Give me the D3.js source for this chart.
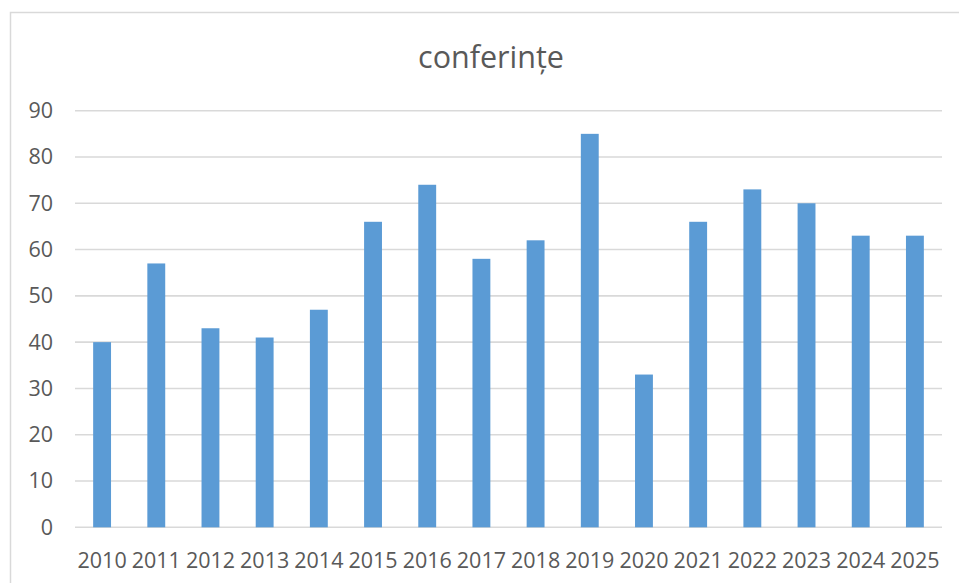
<!DOCTYPE html>
<html>
<head>
<meta charset="utf-8">
<script src="https://cdn.jsdelivr.net/npm/d3@7"></script>
<style>
  html, body { margin: 0; padding: 0; background: #fff; }
  svg { display: block; }
</style>
</head>
<body>
<div id="chart"></div>
<script>
// date din grafic
const years = ['2010','2011','2012','2013','2014','2015','2016','2017','2018','2019','2020','2021','2022','2023','2024','2025'];
const values = [40, 57, 43, 41, 47, 66, 74, 58, 62, 85, 33, 66, 73, 70, 63, 63];
const yTicks = [0, 10, 20, 30, 40, 50, 60, 70, 80, 90];
const title = 'conferințe';

const W = 959, H = 583;
const svg = d3.select('#chart').append('svg')
  .attr('width', W).attr('height', H);

// chenarul graficului
svg.append('rect')
  .attr('x', 10.5).attr('y', 12.5)
  .attr('width', W + 20).attr('height', H + 20)
  .attr('fill', '#fff')
  .attr('stroke', '#d9d9d9')
  .attr('stroke-width', 1.5);

const x = d3.scaleBand()
  .domain(years)
  .range([75, 942])
  .paddingInner(0.67)
  .paddingOuter(0.335);

const y = d3.scaleLinear()
  .domain([0, 90])
  .range([527.3, 110.7]);

const font = '"Open Sans", sans-serif';

// linii de grilă
svg.append('g')
  .selectAll('line')
  .data(yTicks)
  .join('line')
  .attr('x1', 75).attr('x2', 942)
  .attr('y1', d => y(d)).attr('y2', d => y(d))
  .attr('stroke', '#d9d9d9')
  .attr('stroke-width', 1.6);

// axa Y
const yAxis = svg.append('g')
  .attr('transform', 'translate(75,0)')
  .call(d3.axisLeft(y).tickValues(yTicks).tickSize(0).tickPadding(22));
yAxis.select('.domain').remove();
yAxis.selectAll('text')
  .attr('fill', '#595959')
  .style('font-family', font)
  .style('font-size', '21.5px');

// bare
svg.append('g')
  .selectAll('rect')
  .data(values)
  .join('rect')
  .attr('x', (d, i) => x(years[i]))
  .attr('y', d => y(d))
  .attr('width', x.bandwidth())
  .attr('height', d => y(0) - y(d))
  .attr('fill', '#5b9bd5');

// axa X
const xAxis = svg.append('g')
  .attr('transform', `translate(0,${y(0)})`)
  .call(d3.axisBottom(x).tickSize(0).tickPadding(25));
xAxis.select('.domain').remove();
xAxis.selectAll('text')
  .attr('fill', '#595959')
  .style('font-family', font)
  .style('font-size', '21.5px');

// titlu
svg.append('text')
  .attr('x', 491).attr('y', 68)
  .attr('text-anchor', 'middle')
  .attr('fill', '#595959')
  .style('font-family', font)
  .style('font-size', '30.5px')
  .text(title);
</script>
</body>
</html>
